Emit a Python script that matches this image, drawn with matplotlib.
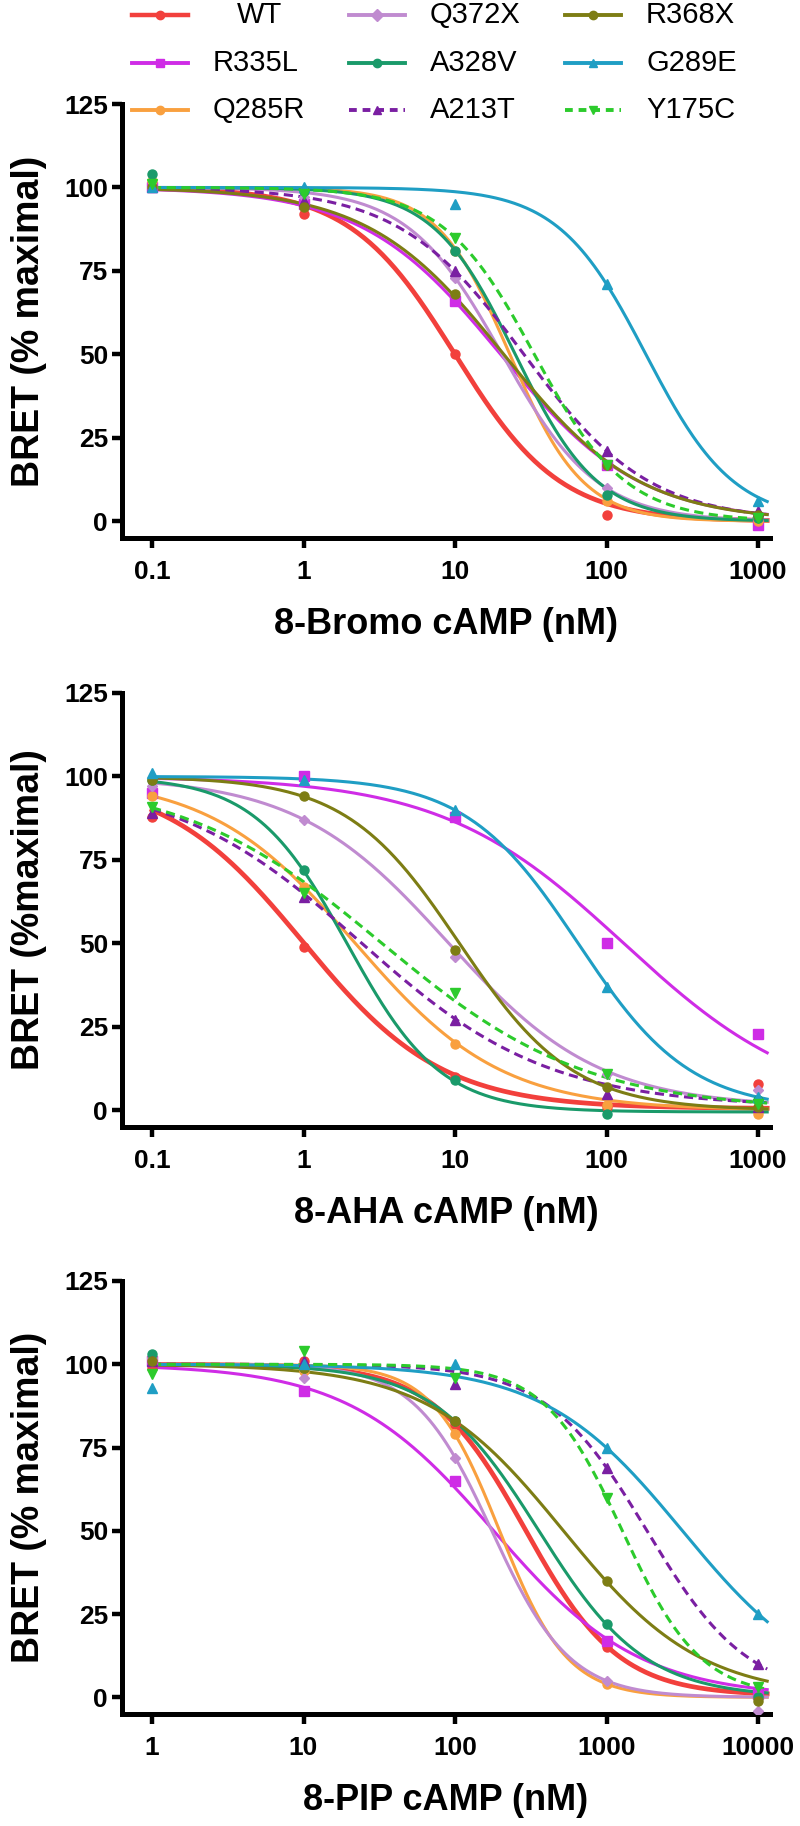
import numpy as np
import matplotlib
matplotlib.use("Agg")
import matplotlib.pyplot as plt
from matplotlib.lines import Line2D

FONT = 'Liberation Sans'

# ---------------- data ----------------
series = ["WT", "R335L", "Q285R", "Q372X", "A328V", "A213T", "R368X", "G289E", "Y175C"]
colors = {"WT": "#f2403c", "R335L": "#cf2ce6", "Q285R": "#f9a03f", "Q372X": "#c08bd0",
          "A328V": "#1a9a6a", "A213T": "#7a1fa2", "R368X": "#7d7d14", "G289E": "#1f9ec4",
          "Y175C": "#2ccb2c"}
markers = {"WT": "o", "R335L": "s", "Q285R": "o", "Q372X": "D", "A328V": "o",
           "A213T": "^", "R368X": "o", "G289E": "^", "Y175C": "v"}
dashed = {"A213T", "Y175C"}

x_bromo = [0.1, 1, 10, 100, 1000]
x_aha = [0.1, 1, 10, 100, 1000]
x_pip = [1, 10, 100, 1000, 10000]

bromo_pts = {
    "WT":    [100, 92, 50, 2, 0.5],
    "R335L": [100, 95, 66, 17, -1],
    "Q285R": [102, 99, 81, 6, 0],
    "Q372X": [100, 97, 73, 10, 1],
    "A328V": [104, 99, 81, 8, 1],
    "A213T": [100, 96, 75, 21, 3],
    "R368X": [100, 94, 68, 17, 2],
    "G289E": [100, 100, 95, 71, 6],
    "Y175C": [101, 98, 85, 17, 1],
}
aha_pts = {
    "WT":    [88, 49, 10, 1, 8],
    "R335L": [95, 100, 88, 50, 23],
    "Q285R": [94, 67, 20, 1.5, -1],
    "Q372X": [97, 87, 46, 11, 6],
    "A328V": [99, 72, 9, -1, 3],
    "A213T": [89, 64, 27, 5, 1],
    "R368X": [99, 94, 48, 7, 1],
    "G289E": [101, 99, 90, 37, 4],
    "Y175C": [91, 65, 35, 11, 2],
}
pip_pts = {
    "WT":    [99, 101, 82, 15, 0.5],
    "R335L": [101, 92, 65, 17, 1],
    "Q285R": [102, 98, 79, 4, 0],
    "Q372X": [102, 96, 72, 5, -4],
    "A328V": [103, 99, 83, 22, 0],
    "A213T": [101, 101, 94, 69, 10],
    "R368X": [101, 99, 83, 35, -1],
    "G289E": [93, 100, 100, 75, 25],
    "Y175C": [97, 104, 96, 60, 3],
}

# fitted curve parameters: (top, bottom, IC50 nM, Hill slope)
bromo_fit = {
    "WT": (100, 0, 10, 1.25), "R335L": (100, 0, 20, 0.95), "Q285R": (100, 0, 23, 1.8),
    "Q372X": (100, 0, 20.5, 1.39), "A328V": (100, 0, 25, 1.6), "A213T": (100, 0, 28.5, 1.05),
    "R368X": (100, 0, 21, 0.97), "G289E": (100, 0, 182, 1.5), "Y175C": (100, 0, 33.4, 1.44),
}
aha_fit = {
    "WT": (100, 0.5, 1.0, 0.95), "R335L": (100, 0, 130, 0.72), "Q285R": (100, 0, 2.2, 0.9),
    "Q372X": (100, 1, 8.9, 0.87), "A328V": (100, -0.5, 1.95, 1.41), "A213T": (100, 1, 2.36, 0.7),
    "R368X": (100, 0, 10.7, 1.16), "G289E": (100, 0, 65, 1.17), "Y175C": (100, 0, 3.3, 0.65),
}
pip_fit = {
    "WT": (100, 0.5, 292, 1.41), "R335L": (100, 0, 180, 0.9), "Q285R": (100, 0, 197, 1.95),
    "Q372X": (100, 0, 175, 1.69), "A328V": (100, 0, 358, 1.24), "A213T": (100, 0, 1850, 1.3),
    "R368X": (100, 0, 520, 0.96), "G289E": (100, 0, 3170, 0.95), "Y175C": (100, 0, 1272, 1.68),
}

yticks = [0, 25, 50, 75, 100, 125]
panels = [
    (x_bromo, bromo_pts, bromo_fit, "BRET (% maximal)", "8-Bromo cAMP (nM)", ["0.1", "1", "10", "100", "1000"]),
    (x_aha, aha_pts, aha_fit, "BRET (%maximal)", "8-AHA cAMP (nM)", ["0.1", "1", "10", "100", "1000"]),
    (x_pip, pip_pts, pip_fit, "BRET (% maximal)", "8-PIP cAMP (nM)", ["1", "10", "100", "1000", "10000"]),
]

# ---------------- figure ----------------
W, H = 800, 1826
fig = plt.figure(figsize=(W / 100, H / 100), dpi=100)

ax_left, ax_right = 122, 770
tops = [104, 693, 1281]
bottoms = [538, 1127, 1714]

for (xs, pts, fits, ylab, xlab, xtl), top, bot in zip(panels, tops, bottoms):
    ax = fig.add_axes([ax_left / W, 1 - bot / H, (ax_right - ax_left) / W, (bot - top) / H])
    ax.set_xscale("log")
    x0 = xs[0]
    ax.set_xlim(x0 * 10 ** (-30 / 151.5), xs[-1] * 10 ** (12 / 151.5))
    ax.set_ylim(-5, 125)
    xx = np.logspace(np.log10(x0), np.log10(xs[-1] * 1.15), 300)
    for name in series:
        top_, bot_, ic50, h = fits[name]
        yy = bot_ + (top_ - bot_) / (1 + (xx / ic50) ** h)
        lw = 3.4 if name == "WT" else 2.2
        ls = (0, (3, 1.8)) if name in dashed else "-"
        ax.plot(xx, yy, color=colors[name], lw=lw, ls=ls, zorder=2)
        ax.plot(xs, pts[name], ls="none", marker=markers[name], color=colors[name],
                ms=6.5 if markers[name] != "D" else 5.3, zorder=3)
    for s in ["top", "right"]:
        ax.spines[s].set_visible(False)
    for s in ["left", "bottom"]:
        ax.spines[s].set_linewidth(3.6)
    ax.set_yticks(yticks)
    ax.set_yticklabels([str(t) for t in yticks])
    ax.set_xticks(xs)
    ax.set_xticklabels(xtl)
    ax.minorticks_off()
    ax.tick_params(axis="both", direction="out", length=7, width=3.2, pad=3)
    ax.tick_params(axis="x", pad=9)
    for lab in ax.get_xticklabels() + ax.get_yticklabels():
        lab.set_fontfamily(FONT)
        lab.set_fontweight("bold")
        lab.set_fontsize(19)
    ax.set_ylabel(ylab, fontfamily=FONT, fontweight="bold", fontsize=27)
    ax.yaxis.set_label_coords(-0.115, 0.5)
    ax.set_xlabel(xlab, fontfamily=FONT, fontweight="bold", fontsize=26)
    ax.xaxis.set_label_coords(0.5, -0.16)

# ---------------- legend (3 columns x 3 rows) ----------------
col_x = [132, 349, 565]
row_y = [15, 63, 110]
for i, name in enumerate(series):
    col, row = i // 3, i % 3
    x0 = col_x[col]
    y = 1 - row_y[row] / H
    ls = (0, (2, 1.5)) if name in dashed else "-"
    fig.add_artist(Line2D([x0 / W, (x0 + 56) / W], [y, y], transform=fig.transFigure,
                          color=colors[name], lw=3.2 if name == "WT" else 2.8, ls=ls))
    fig.add_artist(Line2D([(x0 + 28) / W], [y], transform=fig.transFigure, ls="none",
                          marker=markers[name], color=colors[name], ms=6))
    tx = x0 + 105 if name == "WT" else x0 + 81
    fig.text(tx / W, y, name, fontfamily=FONT, fontsize=21, ha="left", va="center")

fig.savefig("out.png", dpi=100)
